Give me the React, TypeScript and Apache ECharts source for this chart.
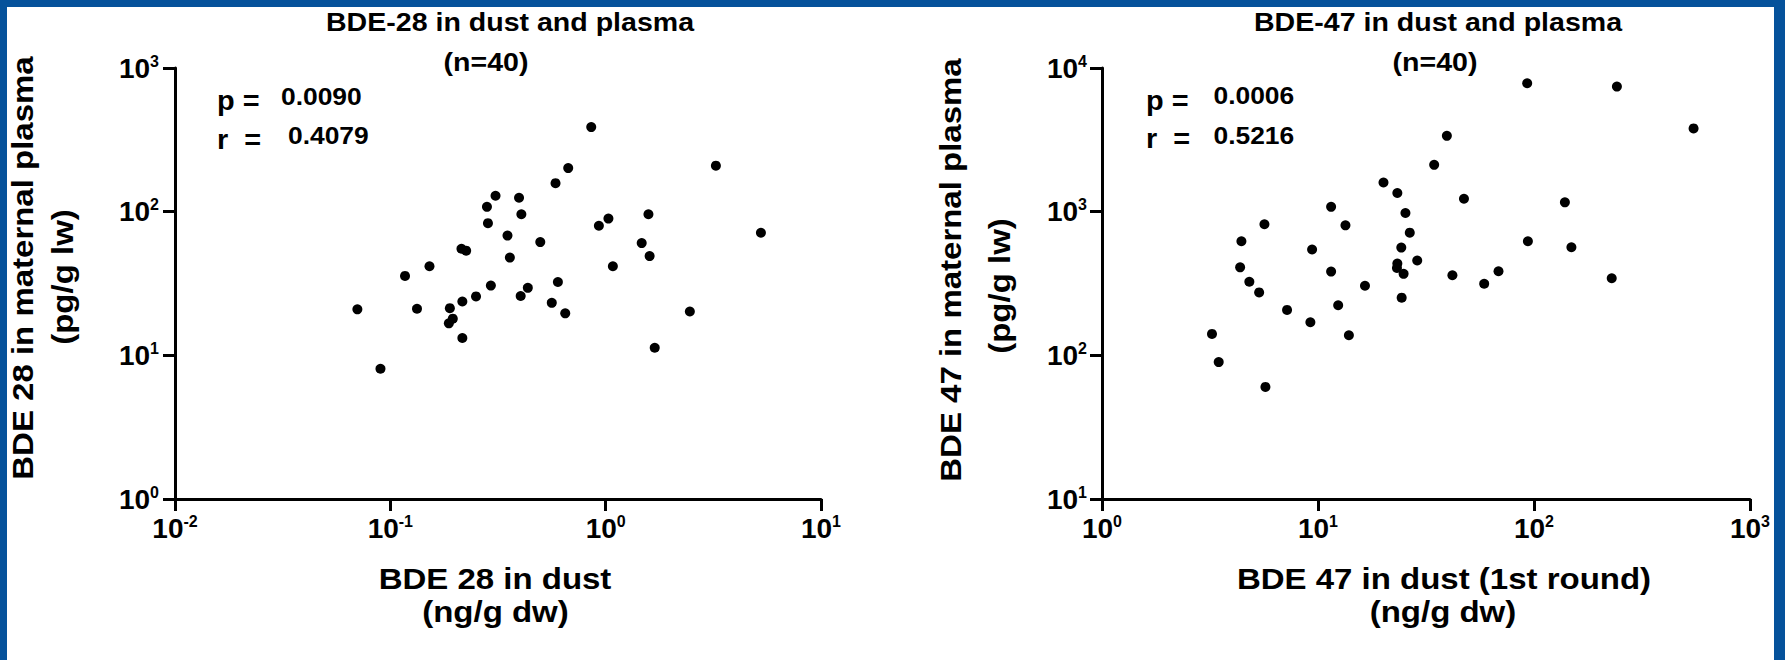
import React, { useEffect, useRef } from "react";
import * as echarts from "echarts";

// BDE-28: dust (ng/g dw) vs maternal plasma (pg/g lw)
const bde28Dust = [
  0.857, 3.25, 0.67, 0.585, 0.308, 0.396, 0.281, 0.406, 1.58, 1.03,
  0.93, 0.284, 5.26, 0.35, 0.497, 1.47, 0.214, 0.225, 1.6, 0.359,
  0.152, 1.08, 0.117, 0.6, 0.293, 0.435, 0.403, 0.25, 0.216, 0.562,
  0.0703, 0.133, 0.189, 2.46, 0.649, 0.195, 0.187, 0.216, 1.69, 0.09,
];
const bde28Plasma = [
  388, 209, 201, 158, 129, 125, 108, 96, 96, 89.5,
  79.8, 83.2, 71.3, 68.2, 61.4, 60.4, 55.2, 53.5, 49.1, 47.9,
  41.7, 41.7, 35.7, 32.4, 30.6, 29.5, 25.9, 25.7, 23.7, 23.2,
  20.9, 21.1, 21.3, 20.2, 19.6, 18.0, 16.7, 13.2, 11.3, 8.06,
];

// BDE-47: dust 1st round (ng/g dw) vs maternal plasma (pg/g lw)
const bde47Dust = [
  39.5, 34.5, 20.1, 23.3, 11.5, 25.4, 5.65, 13.4, 26.6, 4.42,
  9.39, 24.3, 28.8, 23.3, 23.2, 24.9, 4.36, 11.5, 4.81, 16.5,
  5.34, 24.4, 12.4, 7.19, 9.22, 13.9, 3.23, 3.47, 5.71, 93.0,
  242, 548, 47.4, 139, 93.7, 149, 68.5, 41.9, 58.8, 229,
];
const bde47Plasma = [
  3370, 2118, 1596, 1349, 1080, 979, 817, 803, 714, 622,
  545, 562, 457, 435, 406, 369, 410, 383, 325, 305,
  274, 252, 223, 207, 170, 138, 141, 89.8, 60.3, 7830,
  7420, 3796, 1230, 1161, 622, 565, 385, 361, 315, 344,
];

// Axis ranges (log10 decades)
const leftXRange = [0.01, 10];
const leftYRange = [1, 1000];
const rightXRange = [1, 1000];
const rightYRange = [10, 10000];

const titles = ["BDE-28 in dust and plasma", "BDE-47 in dust and plasma"];
const subtitle = "(n=40)";
const pValues = ["0.0090", "0.0006"];
const rValues = ["0.4079", "0.5216"];
const xTitles = [
  ["BDE 28 in dust", "(ng/g dw)"],
  ["BDE 47 in dust (1st round)", "(ng/g dw)"],
];
const yTitles = [
  ["BDE 28 in maternal plasma", "(pg/g lw)"],
  ["BDE 47 in maternal plasma", "(pg/g lw)"],
];

const FONT = '"Liberation Sans", Arial, Helvetica, sans-serif';
const BLUE = "#05529b";

const labelFormatter = (v: number) => {
  const e = Math.round(Math.log10(v));
  return `{b|10}{s|${e}}`;
};

const rich = {
  b: { fontSize: 28, fontWeight: "bold", fontFamily: FONT, color: "#000", lineHeight: 30 },
  s: { fontSize: 16, fontWeight: "bold", fontFamily: FONT, color: "#000", lineHeight: 16, verticalAlign: "top" },
};

const makeAxis = (range: number[], gridIndex: number, margin: number) => ({
  type: "log",
  logBase: 10,
  min: range[0],
  max: range[1],
  gridIndex,
  axisLine: { show: true, onZero: false, lineStyle: { color: "#000", width: 3 } },
  axisTick: { show: true, length: 12, lineStyle: { color: "#000", width: 3 } },
  splitLine: { show: false },
  minorTick: { show: false },
  axisLabel: { formatter: labelFormatter, rich, margin, fontSize: 28, fontFamily: FONT, fontWeight: "bold", color: "#000" },
});

const txt = (
  text: string,
  x: number,
  y: number,
  size: number,
  align: string,
  opts: any = {}
) => ({
  type: "text",
  x,
  y,
  scaleX: opts.scaleX ?? 1.1,
  rotation: opts.rotation ?? 0,
  silent: true,
  style: {
    text,
    fill: "#000",
    font: `${opts.weight ?? "bold"} ${size}px ${FONT}`,
    textAlign: align,
    textVerticalAlign: "middle",
  },
});

export default function App() {
  const ref = useRef<HTMLDivElement>(null);

  useEffect(() => {
    if (!ref.current) return;
    const chart = echarts.init(ref.current, undefined, { renderer: "svg" });
    const R = Math.PI / 2;
    const option = {
      animation: false,
      backgroundColor: "#fff",
      grid: [
        { left: 175, top: 68, width: 646, height: 431 },
        { left: 1102, top: 68, width: 648, height: 431 },
      ],
      xAxis: [makeAxis(leftXRange, 0, 14), makeAxis(rightXRange, 1, 14)],
      yAxis: [makeAxis(leftYRange, 0, 16), makeAxis(rightYRange, 1, 15)],
      series: [
        {
          type: "scatter",
          xAxisIndex: 0,
          yAxisIndex: 0,
          symbol: "circle",
          symbolSize: 10,
          itemStyle: { color: "#000", opacity: 1 },
          data: bde28Dust.map((x, i) => [x, bde28Plasma[i]]),
        },
        {
          type: "scatter",
          xAxisIndex: 1,
          yAxisIndex: 1,
          symbol: "circle",
          symbolSize: 10,
          itemStyle: { color: "#000", opacity: 1 },
          data: bde47Dust.map((x, i) => [x, bde47Plasma[i]]),
        },
      ],
      graphic: [
        { type: "rect", shape: { x: 0, y: 0, width: 1785, height: 7 }, style: { fill: BLUE }, silent: true },
        { type: "rect", shape: { x: 0, y: 0, width: 7, height: 660 }, style: { fill: BLUE }, silent: true },
        { type: "rect", shape: { x: 1774, y: 0, width: 11, height: 660 }, style: { fill: BLUE }, silent: true },

        txt(titles[0], 510, 22.5, 25.5, "center", { scaleX: 1.12 }),
        txt(subtitle, 486, 62, 25.5, "center", { scaleX: 1.12 }),
        txt(titles[1], 1438, 22.5, 25.5, "center", { scaleX: 1.12 }),
        txt(subtitle, 1435, 62, 25.5, "center", { scaleX: 1.12 }),

        txt("p =", 217, 100.5, 27, "left", { scaleX: 1.07 }),
        txt(pValues[0], 281, 96.5, 24, "left", { scaleX: 1.1 }),
        txt("r  =", 217, 139.5, 27, "left", { scaleX: 1.07 }),
        txt(rValues[0], 288, 135.5, 24, "left", { scaleX: 1.1 }),

        txt("p =", 1146, 100.5, 27, "left", { scaleX: 1.07 }),
        txt(pValues[1], 1213.5, 95.5, 24, "left", { scaleX: 1.1 }),
        txt("r  =", 1146, 138.5, 27, "left", { scaleX: 1.07 }),
        txt(rValues[1], 1213.5, 135, 24, "left", { scaleX: 1.1 }),

        txt(xTitles[0][0], 495, 579, 30, "center"),
        txt(xTitles[0][1], 495.5, 612, 30, "center"),
        txt(xTitles[1][0], 1444, 579, 30, "center"),
        txt(xTitles[1][1], 1443, 612, 30, "center"),

        txt(yTitles[0][0], 23, 268, 30, "center", { rotation: R }),
        txt(yTitles[0][1], 63, 277, 30, "center", { rotation: R }),
        txt(yTitles[1][0], 951, 270, 30, "center", { rotation: R }),
        txt(yTitles[1][1], 1000, 286, 30, "center", { rotation: R }),
      ],
    };
    chart.setOption(option as any);
    return () => chart.dispose();
  }, []);

  return (
    <div
      ref={ref}
      style={{ position: "fixed", left: 0, top: 0, width: 1785, height: 660 }}
    />
  );
}
